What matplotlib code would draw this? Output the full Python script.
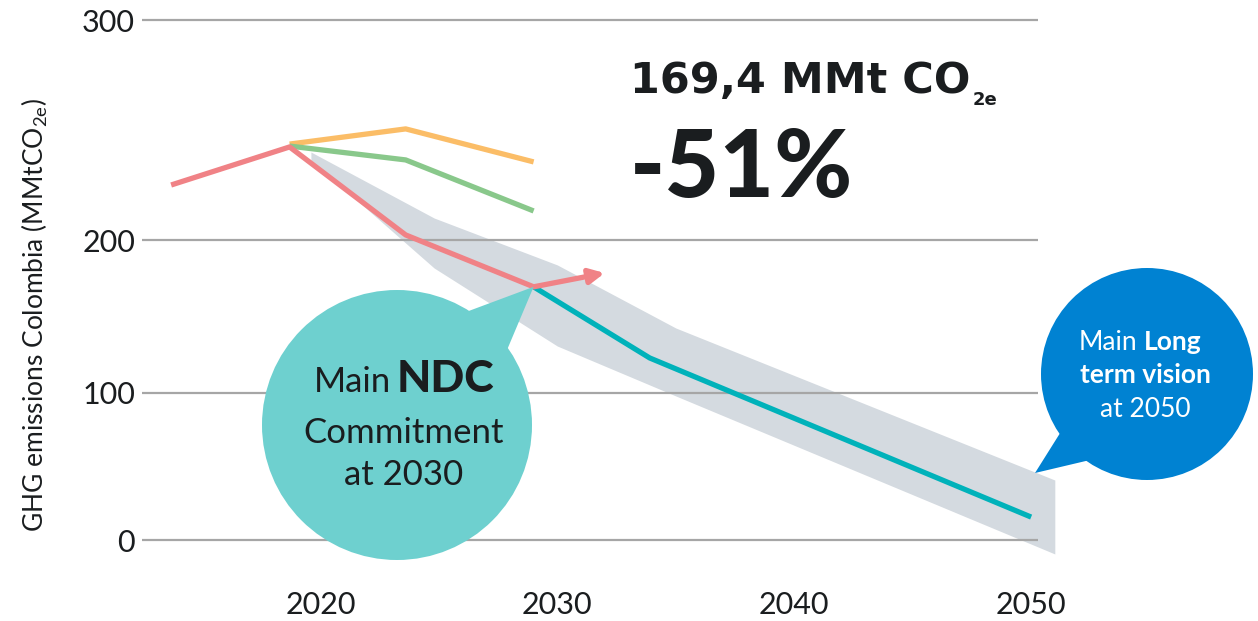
import numpy as np
import matplotlib
matplotlib.use('Agg')
import matplotlib.pyplot as plt
from matplotlib.patches import Circle, Polygon

W, H = 1258, 621

# GHG emissions Colombia, MMt CO2e
hist_years = [2013.7, 2018.7, 2023.6, 2029.0]
hist_vals = [225.0, 242.3, 202.3, 169.4]
arrow_year = 2032.0
arrow_val = 178.4
orange_years = [2018.7, 2023.6, 2029.0]
orange_vals = [243.6, 250.5, 235.5]
green_years = [2018.7, 2023.6, 2029.0]
green_vals = [242.7, 236.4, 213.2]
path_years = [2029.0, 2033.9, 2050.0]
path_vals = [169.4, 122.9, 15.6]
band_years = [2019.6, 2024.8, 2030.0, 2035.0, 2051.0]
band_low = [236.4, 181.7, 130.7, 98.0, -9.5]
band_high = [240.0, 210.0, 183.7, 142.5, 40.8]

y_ticks = [0, 100, 200, 300]
x_ticks = [2020, 2030, 2040, 2050]

# the original axis is not drawn to scale, so use a piecewise linear one
VAL_BREAKS = np.array([0.0, 100.0, 200.0, 300.0])
POS_BREAKS = np.array([0.0, 147.0, 300.0, 520.0])

RED = '#f08286'
ORANGE = '#fbbd67'
GREEN = '#89c88b'
TEAL = '#00b2ba'
BAND = '#d4dae0'
NDC_COL = '#6ed0cf'
BLUE = '#0082d2'
GRID = '#a6a6a6'
TXT = '#1a1d1f'


def _pw(v, xs, ys):
    v = np.asarray(v, dtype=float)
    out = np.interp(v, xs, ys)
    lo = ys[0] + (v - xs[0]) * (ys[1] - ys[0]) / (xs[1] - xs[0])
    hi = ys[-1] + (v - xs[-1]) * (ys[-1] - ys[-2]) / (xs[-1] - xs[-2])
    out = np.where(v < xs[0], lo, out)
    out = np.where(v > xs[-1], hi, out)
    return out


def fwd(v):
    return _pw(v, VAL_BREAKS, POS_BREAKS)


def inv(u):
    return _pw(u, POS_BREAKS, VAL_BREAKS)


fig = plt.figure(figsize=(W / 100, H / 100), dpi=100)
ax = fig.add_axes([142 / W, 61 / H, (1038 - 142) / W, 560 / H])
ax.set_yscale('function', functions=(fwd, inv))
ax.set_ylim(float(inv(-20)), float(inv(540)))
ax.set_xlim(2012.47, 2050.29)

ax.fill_between(band_years, band_low, band_high, color=BAND, lw=0,
                zorder=1, clip_on=False)
ax.plot(orange_years, orange_vals, color=ORANGE, lw=3.8, zorder=3,
        solid_capstyle='butt')
ax.plot(green_years, green_vals, color=GREEN, lw=3.8, zorder=3,
        solid_capstyle='butt')
ax.plot(path_years, path_vals, color=TEAL, lw=3.8, zorder=3,
        solid_capstyle='butt')
ax.plot(hist_years, hist_vals, color=RED, lw=3.8, zorder=4,
        solid_capstyle='butt')
ax.annotate('', xy=(arrow_year, arrow_val),
            xytext=(hist_years[-1], hist_vals[-1]),
            arrowprops=dict(arrowstyle='-|>', color=RED, lw=3.8,
                            mutation_scale=22, shrinkA=0, shrinkB=0),
            zorder=4)

ax.set_yticks(y_ticks)
ax.set_yticklabels([str(t) for t in y_ticks])
ax.set_xticks(x_ticks)
ax.set_xticklabels([str(t) for t in x_ticks])
ax.yaxis.grid(True, color=GRID, lw=1.6)
ax.set_axisbelow(False)
ax.tick_params(length=0)
ax.tick_params(axis='y', pad=5)
ax.tick_params(axis='x', pad=22)
for lab in ax.get_yticklabels() + ax.get_xticklabels():
    lab.set_fontfamily('Lato')
    lab.set_fontweight('normal')
    lab.set_fontsize(22)
    lab.set_color(TXT)
for s in ax.spines.values():
    s.set_visible(False)
ax.patch.set_visible(False)

plt.rcParams['mathtext.fontset'] = 'custom'
plt.rcParams['mathtext.rm'] = 'Lato'
fig.text(35 / W, 1 - 315 / H, r'GHG emissions Colombia (MMtCO$_{\mathrm{2e}}$)',
         rotation=90, ha='center', va='center', fontsize=19,
         family='Lato', color=TXT)

# overlay in pixel coordinates for bubbles and headline
ov = fig.add_axes([0, 0, 1, 1])
ov.set_xlim(0, W)
ov.set_ylim(H, 0)
ov.axis('off')
ov.patch.set_visible(False)

tip = ax.transData.transform((hist_years[-1], hist_vals[-1]))
tip = (tip[0], H - tip[1])
ov.add_patch(Circle((397, 425), 135, color=NDC_COL, lw=0, zorder=5))
ov.add_patch(Polygon([(466, 312), tip, (507, 350)], color=NDC_COL, lw=0,
                     zorder=5))
ov.text(391, 392, 'Main', ha='right', va='baseline', fontsize=25,
        family='Lato', color=TXT, zorder=6)
ov.text(397, 392, 'NDC', ha='left', va='baseline', fontsize=32,
        family='Lato', weight='black', color=TXT, zorder=6)
ov.text(404, 443, 'Commitment', ha='center', va='baseline', fontsize=25,
        family='Lato', color=TXT, zorder=6)
ov.text(404, 485, 'at 2030', ha='center', va='baseline', fontsize=25,
        family='Lato', color=TXT, zorder=6)

ov.add_patch(Circle((1147, 374), 106, color=BLUE, lw=0, zorder=5))
ov.add_patch(Polygon([(1062, 430), (1035, 473), (1090, 460)], color=BLUE,
                     lw=0, zorder=5))
ov.text(1137, 350, 'Main', ha='right', va='baseline', fontsize=19,
        family='Lato', color='white', zorder=6)
ov.text(1144, 350, 'Long', ha='left', va='baseline', fontsize=19,
        family='Lato', weight='bold', color='white', zorder=6)
ov.text(1145, 383, 'term vision', ha='center', va='baseline', fontsize=19,
        family='Lato', weight='bold', color='white', zorder=6)
ov.text(1145, 417, 'at 2050', ha='center', va='baseline', fontsize=19,
        family='Lato', color='white', zorder=6)

head = ov.text(630, 93, '169,4 MMt CO', ha='left', va='baseline',
               fontsize=31, family='DejaVu Sans', weight='bold', color=TXT)
ov.text(630, 197, '-51%', ha='left', va='baseline', fontsize=68,
        family='Lato', weight='black', color=TXT)
fig.canvas.draw()
bb = head.get_window_extent()
ov.text(bb.x1 + 2, 105, '2e', ha='left', va='baseline', fontsize=13,
        family='DejaVu Sans', weight='bold', color=TXT)

fig.savefig('out.png', dpi=100)
